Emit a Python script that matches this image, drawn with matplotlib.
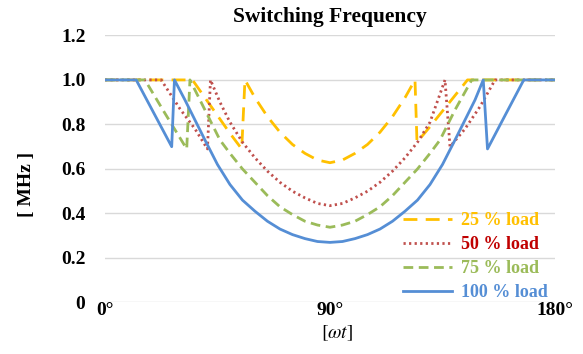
import numpy as np
import matplotlib
matplotlib.use("Agg")
import matplotlib.pyplot as plt

plt.rcParams['font.family'] = ['Liberation Serif', 'DejaVu Serif']
plt.rcParams['mathtext.fontset'] = 'stix'

# ---- data (angle in deg, frequency in MHz) ----
deg_25 = [0, 35, 40, 45, 50, 54.7, 56, 60, 65, 70, 75, 80, 85, 90,
          95, 100, 105, 110, 115, 120, 124, 124.8, 130, 135, 140, 145, 180]
f_25 = [1.0, 1.0, 0.92, 0.84, 0.76, 0.69, 1.0, 0.92, 0.835, 0.765, 0.71, 0.67, 0.64, 0.628,
        0.64, 0.67, 0.71, 0.765, 0.835, 0.92, 1.0, 0.72, 0.79, 0.86, 0.93, 1.0, 1.0]

deg_50 = [0, 22.5, 30, 36, 41, 42.2, 46, 50, 55, 60, 65, 70, 75, 80, 85, 90,
          95, 100, 105, 110, 115, 120, 125, 130, 136, 138, 144, 150, 156, 180]
f_50 = [1.0, 1.0, 0.87, 0.78, 0.69, 1.0, 0.90, 0.81, 0.72, 0.65, 0.59, 0.54, 0.50, 0.47, 0.445, 0.435,
        0.445, 0.47, 0.50, 0.54, 0.59, 0.65, 0.72, 0.81, 1.0, 0.70, 0.78, 0.88, 1.0, 1.0]

deg_75 = [0, 16, 24, 32.7, 34, 40, 46, 50, 55, 60, 65, 70, 75, 80, 85, 90,
          95, 100, 105, 110, 115, 120, 125, 130, 134, 140, 146.7, 180]
f_75 = [1.0, 1.0, 0.85, 0.69, 1.0, 0.865, 0.73, 0.67, 0.60, 0.54, 0.48, 0.43, 0.395, 0.365, 0.348, 0.338,
        0.348, 0.365, 0.395, 0.43, 0.48, 0.54, 0.60, 0.67, 0.73, 0.865, 1.0, 1.0]

deg_100 = [0, 12.5, 26.7, 27.8, 32, 36, 40, 45, 50, 55, 60, 65, 70, 75, 80, 85, 90,
           95, 100, 105, 110, 115, 120, 125, 130, 135, 140, 144, 148, 151.3, 153, 160, 167.5, 180]
f_100 = [1.0, 1.0, 0.70, 1.0, 0.91, 0.82, 0.73, 0.62, 0.53, 0.46, 0.41, 0.365, 0.33, 0.305, 0.287, 0.274, 0.27,
         0.274, 0.287, 0.305, 0.33, 0.365, 0.41, 0.46, 0.53, 0.62, 0.73, 0.82, 0.91, 1.0, 0.69, 0.84, 1.0, 1.0]

labels = ["25 % load", "50 % load", "75 % load", "100 % load"]
line_colors = ["#FFC000", "#C0504D", "#9BBB59", "#558ED5"]
text_colors = ["#FFC000", "#C00000", "#9BBB59", "#558ED5"]

y_ticks = [0, 0.2, 0.4, 0.6, 0.8, 1.0, 1.2]
y_ticklabels = ["0", "0.2", "0.4", "0.6", "0.8", "1.0", "1.2"]
x_ticks = [0, 90, 180]
x_ticklabels = ["0°", "90°", "180°"]

fig = plt.figure(figsize=(5.83, 3.54), dpi=100)
ax = fig.add_axes([0.180, 0.1455, 0.772, 0.7545])

ax.plot(deg_25, f_25, color=line_colors[0], lw=2, dashes=(5, 3), label=labels[0])
ax.plot(deg_50, f_50, color=line_colors[1], lw=2, dashes=(0.8, 1.2), label=labels[1])
ax.plot(deg_75, f_75, color=line_colors[2], lw=2, dashes=(3.5, 2), label=labels[2])
ax.plot(deg_100, f_100, color=line_colors[3], lw=2, label=labels[3])

ax.set_xlim(0, 180)
ax.set_ylim(0, 1.2)
ax.set_yticks(y_ticks)
ax.set_yticklabels(y_ticklabels)
ax.set_xticks(x_ticks)
ax.set_xticklabels(x_ticklabels)
ax.tick_params(length=0, labelsize=14, pad=14)
ax.tick_params(axis='x', pad=0)
for t in ax.get_xticklabels() + ax.get_yticklabels():
    t.set_fontweight('bold')

ax.grid(axis='y', color='#D9D9D9', lw=1)
ax.set_axisbelow(True)
for s in ax.spines.values():
    s.set_visible(False)

ax.set_title("Switching Frequency", fontsize=15.5, fontweight='bold', pad=10)
fig.text(0.045, 0.48, "[ MHz ]", rotation=90, fontsize=14, fontweight='bold',
         ha='center', va='center')
fig.text(0.578, 0.058, r"$[\omega t]$", fontsize=14, ha='center', va='center')

leg = ax.legend(loc='lower right', bbox_to_anchor=(1.02, -0.055), frameon=False,
                fontsize=13, handlelength=2.7, handletextpad=0.5, labelspacing=0.38)
for txt, c in zip(leg.get_texts(), text_colors):
    txt.set_color(c)
    txt.set_fontweight('bold')

fig.savefig("out.png", dpi=100)
